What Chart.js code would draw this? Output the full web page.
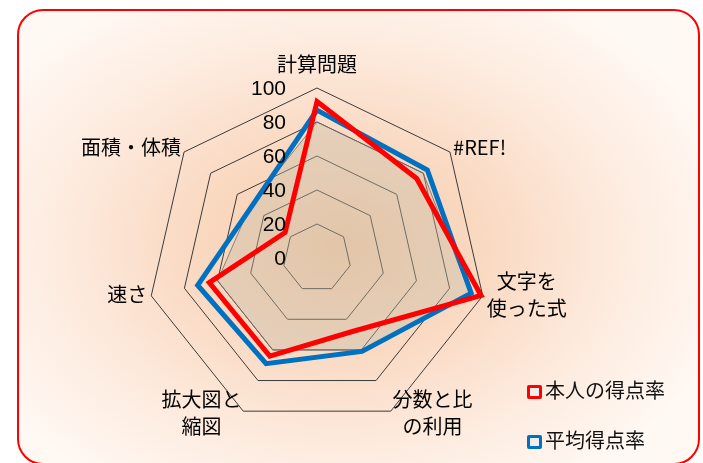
<!DOCTYPE html>
<html>
<head>
<meta charset="utf-8">
<script src="https://cdn.jsdelivr.net/npm/chart.js@4/dist/chart.umd.min.js"></script>
<style>
html, body { margin: 0; padding: 0; background: #fff; width: 703px; height: 463px; overflow: hidden; }
#frame {
    position: absolute; left: 17px; top: 9px; width: 679px; height: 452px;
    border: 2px solid #ff0000; border-radius: 26px;
    background: radial-gradient(ellipse 400px 290px at 320px 235px, #f7cba8 0%, #fadac3 38%, #fdeadd 68%, #fff8f3 100%);
}
#chart { position: absolute; left: 0; top: 0; }
#legend { position: absolute; left: 527px; top: 376px; font: 20px "Noto Sans CJK JP", sans-serif; color: #111; }
#legend div { height: 27px; line-height: 27px; margin-bottom: 23px; white-space: nowrap; }
#legend span.box { display: inline-block; width: 9px; height: 8px; border: 3px solid; border-radius: 2px; background: #eeeeee; margin-right: 3px; vertical-align: -1px; }
</style>
</head>
<body>
<div id="frame"></div>
<canvas id="chart" width="703" height="463"></canvas>
<div id="legend"></div>
<script>
// 項目と系列
const categories = ['計算問題', '#REF!', ['文字を', '使った式'], ['分数と比', 'の利用'], ['拡大図と', '縮図'], '速さ', '面積・体積'];
const seriesNames = ['本人の得点率', '平均得点率'];
const seriesColors = ['#ff0000', '#0070c0'];
const selfRate = [92, 75, 99, 48, 64, 65, 24];
const avgRate = [87, 83, 93, 61, 69, 72, 49];
const areaRate = [80, 80, 92, 60, 60, 60, 50];
const tickMin = 0, tickMax = 100, tickStep = 20;

// 目盛りと項目名はExcel風に自前で描く
const excelLabels = {
    id: 'excelLabels',
    afterDraw(chart) {
        const s = chart.scales.r;
        const ctx = chart.ctx;
        ctx.save();
        ctx.fillStyle = '#000';
        ctx.font = '21px "Liberation Sans", sans-serif';
        ctx.textAlign = 'right';
        ctx.textBaseline = 'middle';
        s.ticks.forEach(t => {
            const p = s.getPointPositionForValue(0, t.value);
            ctx.fillText(String(t.value), p.x - 31, p.y + 1);
        });

        ctx.font = '20px "Noto Sans CJK JP", sans-serif';
        ctx.textAlign = 'center';
        const lh = 27;
        chart.data.labels.forEach((lab, i) => {
            const lines = [].concat(lab);
            const p = s.getPointPosition(i, s.drawingArea + 4);
            const w = Math.max(...lines.map(l => ctx.measureText(l).width));
            let left;
            if (Math.abs(p.x - s.xCenter) < 1) left = p.x - w / 2;
            else if (p.x > s.xCenter) left = p.x;
            else left = p.x - w;
            const cy = i === 0 ? p.y - 20 : p.y - 2;
            const top = cy - lines.length * lh / 2;
            lines.forEach((l, k) => ctx.fillText(l, left + w / 2, top + lh * (k + 0.5)));
        });
        ctx.restore();
    }
};

const ctx = document.getElementById('chart').getContext('2d');
const chart = new Chart(ctx, {
    type: 'radar',
    data: {
        labels: categories,
        datasets: [
            { label: seriesNames[0], data: selfRate, borderColor: seriesColors[0], borderWidth: 5, fill: false },
            { label: seriesNames[1], data: avgRate, borderColor: seriesColors[1], borderWidth: 5, fill: false },
            { label: '', data: areaRate, borderColor: 'rgba(110,110,110,0.8)', borderWidth: 1, backgroundColor: 'rgba(195,190,170,0.38)', fill: true }
        ]
    },
    options: {
        responsive: false,
        animation: false,
        devicePixelRatio: 1,
        layout: { padding: { left: 147, top: 88, right: 216, bottom: 35 } },
        elements: {
            point: { radius: 0, hoverRadius: 0 },
            line: { tension: 0, borderJoinStyle: 'miter' }
        },
        plugins: { legend: { display: false }, tooltip: { enabled: false } },
        scales: {
            r: {
                min: tickMin, max: tickMax,
                ticks: { stepSize: tickStep, display: false },
                pointLabels: { display: false },
                angleLines: { display: false },
                grid: { color: '#3a3a3a', lineWidth: 1 }
            }
        }
    },
    plugins: [excelLabels]
});

// 凡例
const legend = document.getElementById('legend');
seriesNames.forEach((name, i) => {
    const row = document.createElement('div');
    const box = document.createElement('span');
    box.className = 'box';
    box.style.borderColor = seriesColors[i];
    row.appendChild(box);
    row.appendChild(document.createTextNode(name));
    legend.appendChild(row);
});
</script>
</body>
</html>
